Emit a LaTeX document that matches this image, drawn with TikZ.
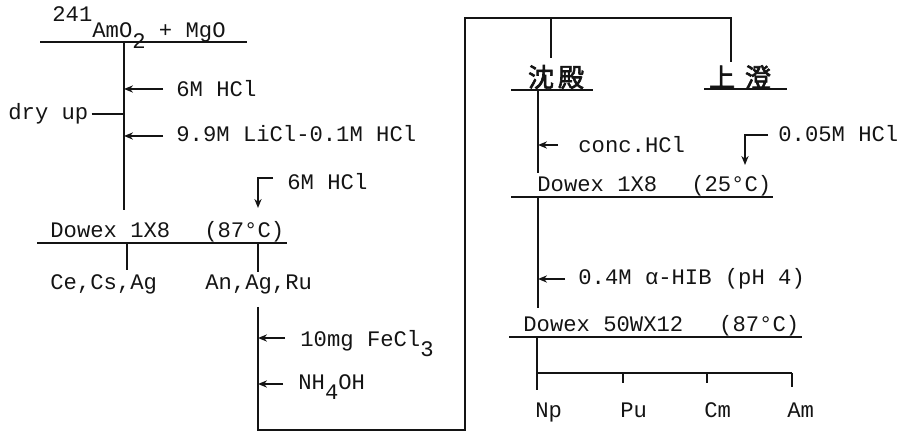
\documentclass[tikz,border=0pt]{standalone}
\usepackage{fontspec}
\usepackage{xcolor}
\usetikzlibrary{positioning,calc,arrows.meta}
\setmonofont{Liberation Mono}
\newfontfamily\jpfont[AutoFakeBold=2.5]{Noto Sans CJK JP}
\definecolor{inkblack}{HTML}{141414}

\begin{document}
\begin{tikzpicture}[x=0.5pt,y=-0.5pt,
  txt/.style={anchor=base west, inner sep=0pt, font=\fontsize{11.1}{13}\ttfamily\color{inkblack}},
  jtxt/.style={inner sep=0pt, font=\fontsize{13}{15}\jpfont\bfseries\color{inkblack}},
  flow/.style={inkblack, line width=0.9pt},
  feed/.style={flow, -{Stealth[length=4.5pt,width=3.6pt]}}]
  \useasboundingbox (0,0) rectangle (915,432);
  % column lines
  \coordinate (colA) at (124,42);
  \coordinate (colB) at (258,243);
  \coordinate (colC) at (258,307);
  \coordinate (colD) at (538,90);
  \coordinate (colE) at (538,197);
  \coordinate (colF) at (537,337);
  \coordinate (loopTop) at (465,18);
  \coordinate (sepL) at (551,58);
  \coordinate (sepR) at (731,62);

  % dissolution
  \node[txt] (feedmat) at (52,38) {\raisebox{8pt}{241}AmO\raisebox{-5.5pt}{2} + MgO};
  \draw[flow] (40,42) -- (247,42);
  \draw[flow] (colA) -- (124,210);
  \node[txt] (hclA) at (176,97) {6M HCl};
  \node[txt] (lici) at (176,142) {9.9M LiCl-0.1M HCl};
  \node[txt] (dryup) at (8,120) {dry up};
  \draw[flow] (dryup.base east) ++(3,-6) coordinate (dryup0) -- (dryup0 -| colA);

  % first anion column
  \node[txt] (dowexA) at (50,238) {Dowex 1X8\hspace{17pt}(87°C)};
  \draw[flow] (37,243) -- (287,243);
  \node[txt] (hclB) at (287,190) {6M HCl};
  \draw[feed] (hclB.base west) ++(-14,-12) -| ++(-15,30);
  \draw[flow] (127,243) -- (127,270);
  \draw[flow] (colB) -- (258,272);
  \node[txt] (cecs) at (50,290) {Ce,Cs,Ag};
  \node[txt] (anag) at (205,290) {An,Ag,Ru};

  % hydroxide precipitation
  \node[txt] (fecl) at (300,347) {10mg FeCl\raisebox{-5pt}{3}};
  \node[txt] (nhoh) at (298,390) {NH\raisebox{-5pt}{4}OH};
  \draw[flow] (colC) |- (465,430) -- (loopTop) -| (sepR);
  \draw[flow] (loopTop -| sepL) -- (sepL);
  \node[jtxt] (ppt) at (556,77) {沈\hspace{2pt}殿};
  \node[jtxt] (supn) at (740,77) {上\hspace{5pt}澄};
  \draw[flow] (511,90) -- (593,90);
  \draw[flow] (704,89) -- (787,89);

  % second anion column
  \draw[flow] (colD) -- (538,173);
  \node[txt] (conc) at (578,153) {conc.HCl};
  \node[txt] (hclC) at (778,142) {0.05M HCl};
  \draw[feed] (hclC.base west) ++(-10,-7) -| ++(-23,30);
  \node[txt] (dowexB) at (537,192) {Dowex 1X8\hspace{17pt}(25°C)};
  \draw[flow] (511,197) -- (773,197);

  % cation column
  \draw[flow] (colE) -- (538,308);
  \node[txt] (hib) at (578,285) {0.4M α-HIB (pH 4)};
  \node[txt] (dowexC) at (523,332) {Dowex 50WX12\hspace{18pt}(87°C)};
  \draw[flow] (509,337) -- (802,337);
  \draw[flow] (colF) -- (537,390);
  \draw[flow] (537,373) -- (792,373);
  \foreach \x/\el/\len in {623/Np/383, 707/Pu/383, 792/Cm/387}{
    \draw[flow] (\x,373) -- (\x,\len);
  }
  \foreach \x/\el in {535/Np, 620/Pu, 704/Cm, 787/Am}{
    \node[txt] (\el) at (\x,417) {\el};
  }

  % feed arrows into columns
  \foreach \n/\dx/\dy/\col in {hclA/-13/-8/colA, lici/-13/-6/colA, fecl/-15/-9/colC,
      nhoh/-15/-6/colC, conc/-20/-8/colD, hib/-13/-6/colE}{
    \draw[feed] (\n.base west) ++(\dx,\dy) coordinate (\n0) -- (\n0 -| \col);
  }
\end{tikzpicture}
\end{document}
